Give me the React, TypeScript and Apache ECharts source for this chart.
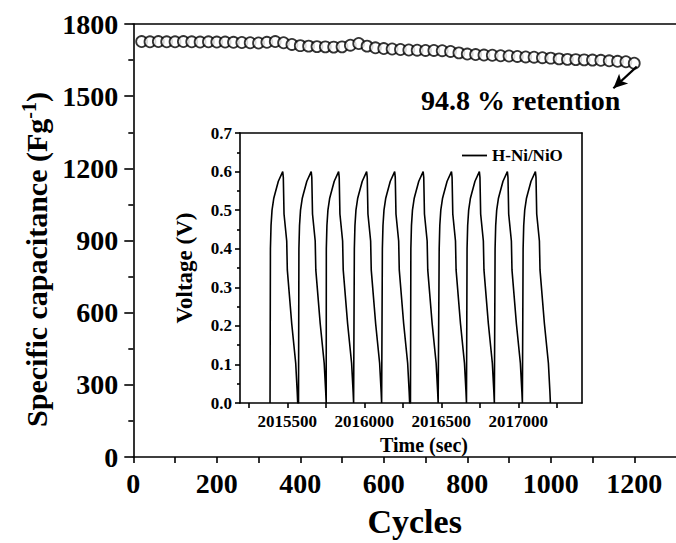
import React, { useEffect, useRef } from "react";
import * as echarts from "echarts";

// ---- Main chart data (cycling stability) ----
const cycleNumbers = [
  20, 40, 60, 80, 100, 120, 140, 160, 180, 200,
  220, 240, 260, 280, 300, 320, 340, 360, 380, 400,
  420, 440, 460, 480, 500, 520, 540, 560, 580, 600,
  620, 640, 660, 680, 700, 720, 740, 760, 780, 800,
  820, 840, 860, 880, 900, 920, 940, 960, 980, 1000,
  1020, 1040, 1060, 1080, 1100, 1120, 1140, 1160, 1180, 1200,
];
const capacitance = [
  1727, 1726, 1727, 1726, 1726, 1727, 1726, 1725, 1726, 1725,
  1725, 1724, 1723, 1722, 1721, 1724, 1727, 1722, 1715, 1710,
  1708, 1706, 1705, 1704, 1705, 1712, 1719, 1708, 1701, 1698,
  1696, 1694, 1692, 1691, 1690, 1690, 1689, 1686, 1680, 1675,
  1673, 1671, 1670, 1668, 1667, 1665, 1663, 1662, 1660, 1658,
  1655, 1653, 1652, 1651, 1650, 1649, 1647, 1645, 1643, 1637,
];
const cycleTickValues = [0, 100, 200, 300, 400, 500, 600, 700, 800, 900, 1000, 1100, 1200];
const cycleLabelValues = [0, 200, 400, 600, 800, 1000, 1200];

// ---- Inset data (galvanostatic charge/discharge) ----
const seriesName = "H-Ni/NiO";
const cycleStartTimes = [
  2015388, 2015573, 2015751, 2015933, 2016115,
  2016300, 2016484, 2016665, 2016847, 2017029,
];
const profileOffsetsSec = [0, 2.6, 6.5, 13, 24, 32.5, 54, 82.4, 86.3, 90.9, 108.4, 112.3, 140.8, 166.8, 176.5, 179.8];
const profileVoltages = [0, 0.4, 0.46, 0.5, 0.53, 0.543, 0.575, 0.6, 0.585, 0.49, 0.42, 0.345, 0.206, 0.103, 0.03, 0];
const timeTickValues = [2015250, 2015500, 2015750, 2016000, 2016250, 2016500, 2016750, 2017000, 2017250];
const timeLabelValues = [2015500, 2016000, 2016500, 2017000];

const retentionText = "94.8 % retention";

const FONT = '"Liberation Serif", "Times New Roman", Times, serif';

export default function App() {
  const ref = useRef<HTMLDivElement>(null);

  useEffect(() => {
    if (!ref.current) return;
    const chart = echarts.init(ref.current, undefined, { renderer: "svg" });

    const mainData = cycleNumbers.map((c, i) => [c, capacitance[i]]);
    const insetData: number[][] = [];
    cycleStartTimes.forEach((t0) => {
      profileOffsetsSec.forEach((dt, i) => insetData.push([t0 + dt, profileVoltages[i]]));
    });

    const axisLine = { show: true, onZero: false, lineStyle: { color: "#000", width: 1.6 } };
    const tickStyle = { color: "#000", width: 1.6 };
    const bold = (size: number) => ({
      color: "#000",
      fontFamily: FONT,
      fontWeight: "bold" as const,
      fontSize: size,
    });
    const plain = (v: number) => String(v);

    const option: any = {
      animation: false,
      backgroundColor: "#fff",
      grid: [
        { left: 133.3, top: 24, right: -7, bottom: 84.7 },
        { left: 240, top: 133, right: 94, bottom: 140 },
      ],
      legend: {
        data: [{ name: seriesName, icon: "rect" }],
        left: 457,
        top: 142,
        itemWidth: 25,
        itemHeight: 1.8,
        itemStyle: { color: "#000", borderWidth: 0 },
        textStyle: { ...bold(17) },
      },
      xAxis: [
        {
          type: "value",
          gridIndex: 0,
          min: 0,
          max: 1300,
          position: "bottom",
          axisLine,
          axisTick: { show: true, customValues: cycleTickValues, length: 6, lineStyle: tickStyle },
          axisLabel: { customValues: cycleLabelValues, margin: 12, formatter: plain, ...bold(28) },
          splitLine: { show: false },
          name: "Cycles",
          nameLocation: "middle",
          nameGap: 47,
          nameTextStyle: { ...bold(34), padding: [0, 0, 0, 20] },
        },
        {
          type: "value",
          gridIndex: 0,
          min: 0,
          max: 1300,
          position: "top",
          axisLine,
          axisTick: { show: false },
          axisLabel: { show: false },
          splitLine: { show: false },
        },
        {
          type: "value",
          gridIndex: 1,
          min: 2015193,
          max: 2017414,
          position: "bottom",
          axisLine,
          axisTick: { show: true, customValues: timeTickValues, length: 5, lineStyle: tickStyle },
          axisLabel: { customValues: timeLabelValues, margin: 10, formatter: plain, ...bold(17) },
          splitLine: { show: false },
          name: "Time (sec)",
          nameLocation: "middle",
          nameGap: 32,
          nameTextStyle: { ...bold(20), padding: [0, 0, 0, 26] },
        },
        {
          type: "value",
          gridIndex: 1,
          min: 2015193,
          max: 2017414,
          position: "top",
          axisLine,
          axisTick: { show: false },
          axisLabel: { show: false },
          splitLine: { show: false },
        },
      ],
      yAxis: [
        {
          type: "value",
          gridIndex: 0,
          min: 0,
          max: 1800,
          interval: 300,
          axisLine,
          axisTick: { show: true, length: 9, lineStyle: tickStyle },
          minorTick: { show: true, splitNumber: 2, length: 5, lineStyle: tickStyle },
          axisLabel: { margin: 15, formatter: plain, ...bold(28) },
          splitLine: { show: false },
          name: "{a|Specific capacitance (Fg}{s|-1}{a|)}",
          nameLocation: "middle",
          nameGap: 66,
          nameTextStyle: {
            ...bold(30),
            padding: [0, 38, 0, 0],
            rich: {
              a: { ...bold(30), lineHeight: 34 },
              s: { ...bold(20), verticalAlign: "top", lineHeight: 34 },
            },
          },
        },
        {
          type: "value",
          gridIndex: 1,
          min: 0,
          max: 0.7,
          interval: 0.1,
          axisLine,
          axisTick: { show: true, length: 5, lineStyle: tickStyle },
          minorTick: { show: true, splitNumber: 2, length: 3, lineStyle: tickStyle },
          axisLabel: { margin: 8, ...bold(17), formatter: (v: number) => v.toFixed(1) },
          splitLine: { show: false },
          name: "Voltage (V)",
          nameLocation: "middle",
          nameGap: 44,
          nameTextStyle: bold(23),
        },
        {
          type: "value",
          gridIndex: 1,
          min: 0,
          max: 0.7,
          position: "right",
          axisLine,
          axisTick: { show: false },
          axisLabel: { show: false },
          splitLine: { show: false },
        },
      ],
      series: [
        {
          type: "scatter",
          name: "capacitance",
          xAxisIndex: 0,
          yAxisIndex: 0,
          data: mainData,
          symbol: "circle",
          symbolSize: 11,
          itemStyle: { color: "#fff", borderColor: "#000", borderWidth: 1.8 },
          markLine: {
            silent: true,
            symbol: ["none", "arrow"],
            symbolSize: [10, 14],
            label: { show: false },
            lineStyle: { color: "#000", width: 2.2, type: "solid" },
            data: [[{ coord: [1206, 1623] }, { coord: [1150, 1533] }]],
          },
        },
        {
          type: "line",
          name: seriesName,
          xAxisIndex: 2,
          yAxisIndex: 1,
          data: insetData,
          symbol: "none",
          showSymbol: false,
          lineStyle: { color: "#000", width: 1.6 },
          itemStyle: { color: "#000" },
        },
      ],
      graphic: [
        {
          type: "text",
          x: 421,
          y: 100,
          style: {
            text: retentionText,
            fill: "#000",
            fontFamily: FONT,
            fontWeight: "bold",
            fontSize: 28,
            verticalAlign: "middle",
          },
        },
      ],
    };

    chart.setOption(option);
    return () => chart.dispose();
  }, []);

  return (
    <div
      ref={ref}
      style={{ position: "absolute", left: 0, top: 0, width: 676, height: 543 }}
    />
  );
}
